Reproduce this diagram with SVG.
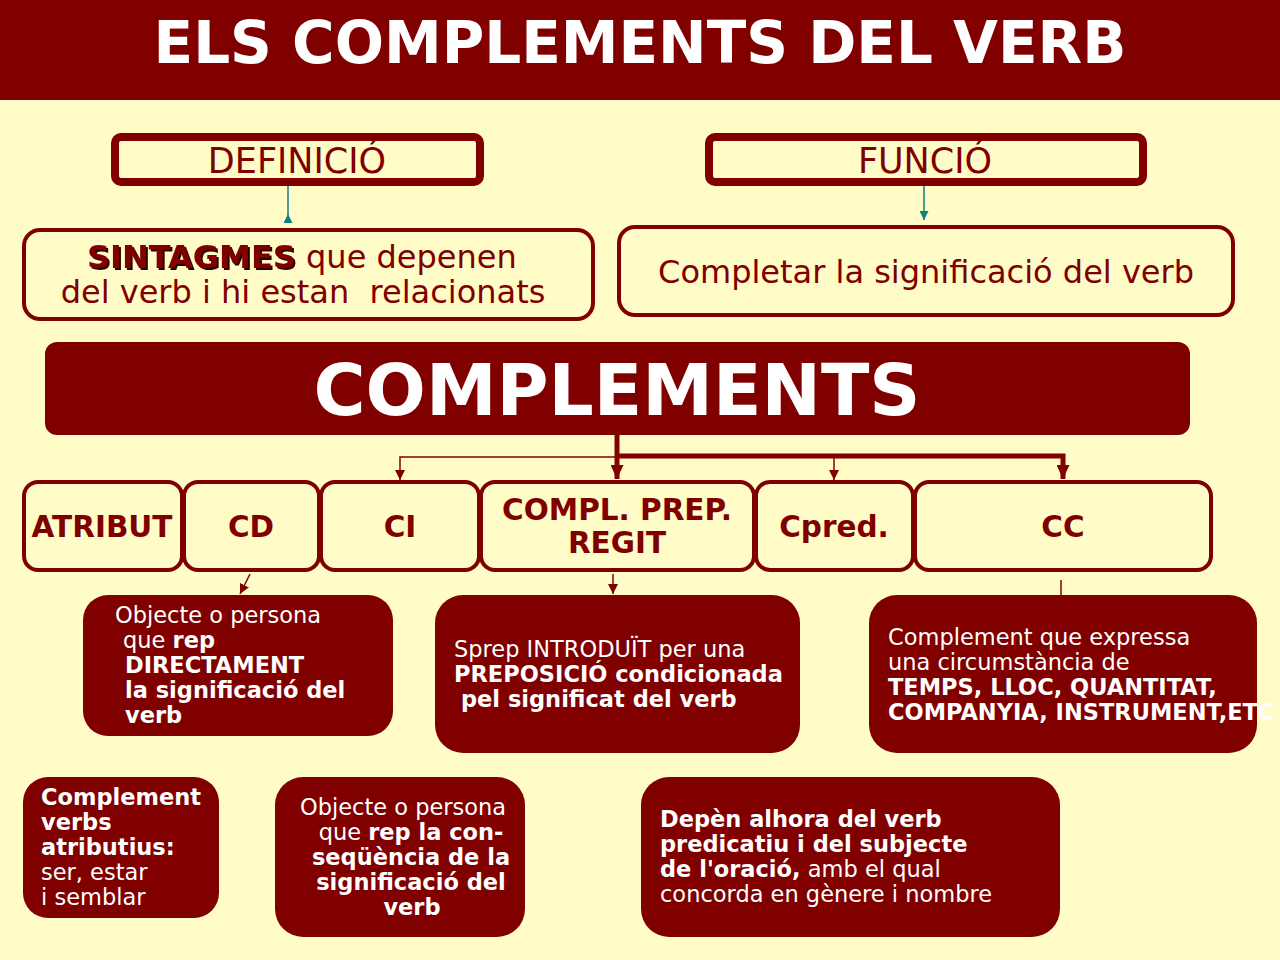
<svg xmlns="http://www.w3.org/2000/svg" width="1280" height="960" viewBox="0 0 1280 960">
<defs>
<style>
text{font-family:"DejaVu Sans","Liberation Sans",sans-serif;white-space:pre}
.outl{fill:#FFFCC8;stroke:#800000}
.dark{fill:#800000}
.lbl{fill:#800000;font-size:32px}
.row{fill:#800000;font-size:29.5px;font-weight:bold;text-anchor:middle}
.wt{fill:#FFFFFF;font-size:22.5px}
.b{font-weight:bold}
.thin{fill:none;stroke:#800000;stroke-width:1.5}
.thick{fill:none;stroke:#800000;stroke-width:5}
.teal{fill:none;stroke:#0F7F7F;stroke-width:1.5}
</style>
<filter id="shadow" x="-5%" y="-20%" width="110%" height="140%">
<feOffset in="SourceAlpha" dx="2" dy="2" result="off"/>
<feFlood flood-color="#2A0000"/>
<feComposite in2="off" operator="in" result="sh"/>
<feMerge><feMergeNode in="sh"/><feMergeNode in="SourceGraphic"/></feMerge>
</filter>
<marker id="aThin" markerUnits="userSpaceOnUse" markerWidth="10" markerHeight="10" viewBox="0 0 10 10" refX="10" refY="5" orient="auto"><path d="M0,0 L10,5 L0,10 z" fill="#800000"/></marker>
<marker id="aThick" markerUnits="userSpaceOnUse" markerWidth="14" markerHeight="13" viewBox="0 0 14 13" refX="14" refY="6.5" orient="auto"><path d="M0,0 L14,6.5 L0,13 z" fill="#800000"/></marker>
<marker id="aTeal" markerUnits="userSpaceOnUse" markerWidth="9" markerHeight="9" viewBox="0 0 10 10" refX="10" refY="5" orient="auto"><path d="M0,0 L10,5 L0,10 z" fill="#0F7F7F"/></marker>
<marker id="aTealS" markerUnits="userSpaceOnUse" markerWidth="9" markerHeight="9" viewBox="0 0 10 10" refX="0" refY="5" orient="auto"><path d="M0,0 L10,5 L0,10 z" fill="#0F7F7F"/></marker>
</defs>
<rect x="0" y="0" width="1280" height="960" fill="#FFFCC8"/>
<g id="title">
<rect x="0" y="0" width="1280" height="100" fill="#800000"/>
<text x="640" y="63" fill="#FFFFFF" font-size="58" font-weight="bold" text-anchor="middle">ELS COMPLEMENTS DEL VERB</text>
</g>
<g id="connectors">
<path class="teal" d="M288 223 V178" marker-start="url(#aTealS)"/>
<path class="teal" d="M924 178 V220" marker-end="url(#aTeal)"/>
<path class="thick" d="M617 435 V479" marker-end="url(#aThick)"/>
<path class="thick" d="M617 456 H1063 V479" marker-end="url(#aThick)"/>
<path class="thin" d="M617 457 H400 V480" marker-end="url(#aThin)"/>
<path class="thin" d="M834 457 V480" marker-end="url(#aThin)"/>
<path class="thin" d="M250 574 L240 594" marker-end="url(#aThin)"/>
<path class="thin" d="M613 574 V594" marker-end="url(#aThin)"/>
<path class="thin" d="M1061 580 V597"/>
</g>
<g id="definicio">
<rect class="outl" x="115" y="137" width="365" height="45" rx="6" stroke-width="8"/>
<text class="lbl" x="297" y="173" text-anchor="middle" style="font-size:35px">DEFINICIÓ</text>
</g>
<g id="funcio">
<rect class="outl" x="709" y="137" width="434" height="45" rx="6" stroke-width="8"/>
<text class="lbl" x="925" y="173" text-anchor="middle" style="font-size:35px">FUNCIÓ</text>
</g>
<g id="sintagmes">
<rect class="outl" x="24" y="230" width="569" height="89" rx="16" stroke-width="4"/>
<text class="lbl" x="87" y="268"><tspan class="b" filter="url(#shadow)">SINTAGMES</tspan> que depenen</text>
<text class="lbl" x="303" y="303" text-anchor="middle">del verb i hi estan  relacionats</text>
</g>
<g id="completar">
<rect class="outl" x="619" y="227" width="614" height="88" rx="16" stroke-width="4"/>
<text class="lbl" x="926" y="283" text-anchor="middle">Completar la significació del verb</text>
</g>
<g id="complements">
<rect class="dark" x="45" y="342" width="1145" height="93" rx="12"/>
<text x="617" y="415" fill="#FFFFFF" font-size="71" font-weight="bold" text-anchor="middle">COMPLEMENTS</text>
</g>
<g id="atribut">
<rect class="outl" x="24" y="482" width="158" height="88" rx="14" stroke-width="4"/>
<text class="row" x="102" y="537">ATRIBUT</text>
</g>
<g id="cd">
<rect class="outl" x="184" y="482" width="135" height="88" rx="14" stroke-width="4"/>
<text class="row" x="251" y="537">CD</text>
</g>
<g id="ci">
<rect class="outl" x="321" y="482" width="158" height="88" rx="14" stroke-width="4"/>
<text class="row" x="400" y="537">CI</text>
</g>
<g id="cprep">
<rect class="outl" x="481" y="482" width="273" height="88" rx="14" stroke-width="4"/>
<text class="row" x="617" y="520">COMPL. PREP.</text>
<text class="row" x="617" y="553">REGIT</text>
</g>
<g id="cpred">
<rect class="outl" x="756" y="482" width="157" height="88" rx="14" stroke-width="4"/>
<text class="row" x="834" y="537">Cpred.</text>
</g>
<g id="cc">
<rect class="outl" x="915" y="482" width="296" height="88" rx="14" stroke-width="4"/>
<text class="row" x="1063" y="537">CC</text>
</g>
<g id="cd-def">
<rect class="dark" x="83" y="595" width="310" height="141" rx="25"/>
<text class="wt" x="115" y="623">Objecte o persona</text>
<text class="wt" x="123" y="648">que <tspan class="b">rep</tspan></text>
<text class="wt b" x="125" y="673">DIRECTAMENT</text>
<text class="wt b" x="125" y="698">la significació del</text>
<text class="wt b" x="125" y="723">verb</text>
</g>
<g id="cprep-def">
<rect class="dark" x="435" y="595" width="365" height="158" rx="28"/>
<text class="wt" x="454" y="657">Sprep INTRODUÏT per una</text>
<text class="wt b" x="454" y="682">PREPOSICIÓ condicionada</text>
<text class="wt b" x="461" y="707">pel significat del verb</text>
</g>
<g id="cc-def">
<rect class="dark" x="869" y="595" width="388" height="158" rx="28"/>
<text class="wt" x="888" y="645">Complement que expressa</text>
<text class="wt" x="888" y="670">una circumstància de</text>
<text class="wt b" x="888" y="695">TEMPS, LLOC, QUANTITAT,</text>
<text class="wt b" x="888" y="720">COMPANYIA, INSTRUMENT,ETC</text>
</g>
<g id="atribut-def">
<rect class="dark" x="23" y="777" width="196" height="141" rx="25"/>
<text class="wt b" x="41" y="805">Complement</text>
<text class="wt b" x="41" y="830">verbs</text>
<text class="wt b" x="41" y="855">atributius:</text>
<text class="wt" x="41" y="880">ser, estar</text>
<text class="wt" x="41" y="905">i semblar</text>
</g>
<g id="ci-def">
<rect class="dark" x="275" y="777" width="250" height="160" rx="28"/>
<text class="wt" x="403" y="815" text-anchor="middle">Objecte o persona</text>
<text class="wt" x="411" y="840" text-anchor="middle">que <tspan class="b">rep la con-</tspan></text>
<text class="wt b" x="411" y="865" text-anchor="middle">seqüència de la</text>
<text class="wt b" x="411" y="890" text-anchor="middle">significació del</text>
<text class="wt b" x="412" y="915" text-anchor="middle">verb</text>
</g>
<g id="cpred-def">
<rect class="dark" x="641" y="777" width="419" height="160" rx="28"/>
<text class="wt b" x="660" y="827">Depèn alhora del verb</text>
<text class="wt b" x="660" y="852">predicatiu i del subjecte</text>
<text class="wt" x="660" y="877"><tspan class="b">de l'oració,</tspan> amb el qual</text>
<text class="wt" x="660" y="902">concorda en gènere i nombre</text>
</g>
</svg>
